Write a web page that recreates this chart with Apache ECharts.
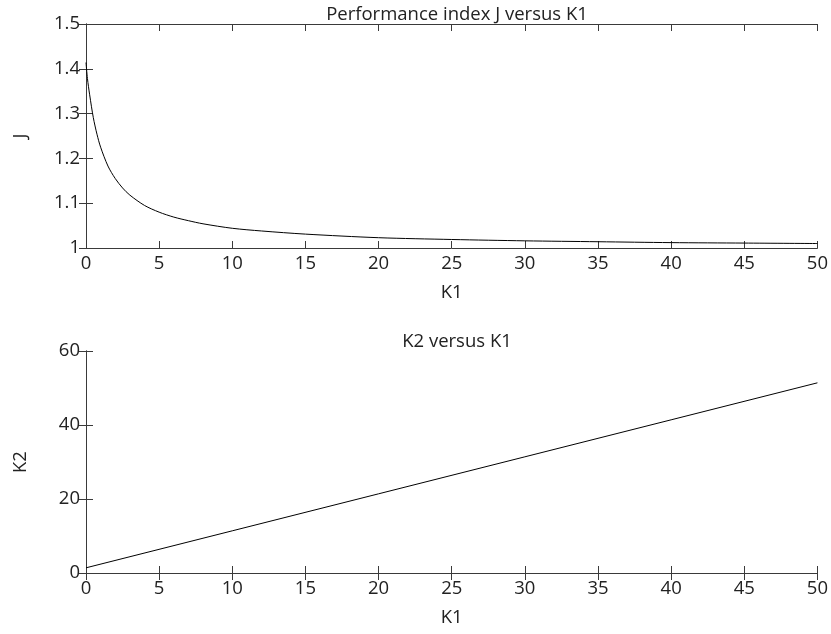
<!DOCTYPE html>
<html>
<head>
<meta charset="utf-8">
<script src="https://cdn.jsdelivr.net/npm/echarts@6/dist/echarts.min.js"></script>
<style>html,body{margin:0;padding:0;background:#fff}#c{width:831px;height:634px}</style>
</head>
<body>
<div id="c"></div>
<script>
// Top panel: J versus K1
const k1Top = [0, 0.1, 0.25, 0.5, 0.75, 1, 1.5, 2, 2.5, 3, 4, 5, 6, 7, 8, 10, 12, 15, 20, 25, 30, 35, 40, 45, 50];
const jValues = [1.414, 1.378, 1.342, 1.291, 1.254, 1.225, 1.183, 1.155, 1.134, 1.118, 1.095, 1.080, 1.069, 1.061, 1.054, 1.044, 1.038, 1.031, 1.023, 1.019, 1.016, 1.014, 1.012, 1.011, 1.010];
// Bottom panel: K2 versus K1
const k1Bottom = [0, 10, 20, 30, 40, 50];
const k2Values = [1.4, 11.4, 21.4, 31.4, 41.4, 51.4];

const titleTop = 'Performance index J versus K1';
const titleBottom = 'K2 versus K1';
const xName = 'K1';
const yNameTop = 'J';
const yNameBottom = 'K2';

const FONT = 'Open Sans';
const FS = 18.5;
const TXT = '#222';
const AX = '#3a3a3a';

function xAx(gi, pos, labels) {
  return {
    type: 'value', gridIndex: gi, position: pos, min: 0, max: 50, interval: 5,
    axisLine: {show: true, lineStyle: {color: AX, width: 1}},
    axisTick: {show: true, inside: true, length: 7, lineStyle: {color: AX}},
    axisLabel: {show: labels, fontFamily: FONT, fontSize: FS, color: TXT, margin: 6},
    splitLine: {show: false},
    name: labels ? xName : '', nameLocation: 'middle', nameGap: 35,
    nameTextStyle: {fontFamily: FONT, fontSize: FS, color: TXT}
  };
}
function yAx(gi, pos, labels, min, max, interval, name, fmt) {
  return {
    type: 'value', gridIndex: gi, position: pos, min: min, max: max, interval: interval,
    axisLine: {show: true, lineStyle: {color: AX, width: 1}},
    axisTick: {show: true, inside: true, length: 7, lineStyle: {color: AX}},
    axisLabel: {show: labels, fontFamily: FONT, fontSize: FS, color: TXT, margin: 6, formatter: fmt},
    splitLine: {show: false},
    name: labels ? name : '', nameLocation: 'middle', nameGap: 56,
    nameTextStyle: {fontFamily: FONT, fontSize: FS, color: TXT}
  };
}

const chart = echarts.init(document.getElementById('c'), null, {renderer: 'canvas'});
chart.setOption({
  backgroundColor: '#fff',
  animation: false,
  title: [
    {text: titleTop, left: 452, top: 0, textAlign: 'center',
     textStyle: {fontFamily: FONT, fontSize: FS, fontWeight: 'normal', color: TXT}},
    {text: titleBottom, left: 452, top: 327, textAlign: 'center',
     textStyle: {fontFamily: FONT, fontSize: FS, fontWeight: 'normal', color: TXT}}
  ],
  grid: [
    {left: 86, top: 24, width: 731.5, height: 224},
    {left: 86, top: 351, width: 731.5, height: 222}
  ],
  xAxis: [
    xAx(0, 'bottom', true), xAx(0, 'top', false),
    xAx(1, 'bottom', true), xAx(1, 'top', false)
  ],
  yAxis: [
    yAx(0, 'left', true, 1, 1.5, 0.1, yNameTop, v => (Math.round(v*10)/10).toString()),
    yAx(0, 'right', false, 1, 1.5, 0.1, '', null),
    yAx(1, 'left', true, 0, 60, 20, yNameBottom, null),
    yAx(1, 'right', false, 0, 60, 20, '', null)
  ],
  series: [
    {type: 'line', xAxisIndex: 0, yAxisIndex: 0, smooth: 0.3, showSymbol: false,
     lineStyle: {color: '#000', width: 1}, data: k1Top.map((x, i) => [x, jValues[i]])},
    {type: 'line', xAxisIndex: 2, yAxisIndex: 2, showSymbol: false,
     lineStyle: {color: '#000', width: 1}, data: k1Bottom.map((x, i) => [x, k2Values[i]])}
  ]
});
</script>
</body>
</html>
